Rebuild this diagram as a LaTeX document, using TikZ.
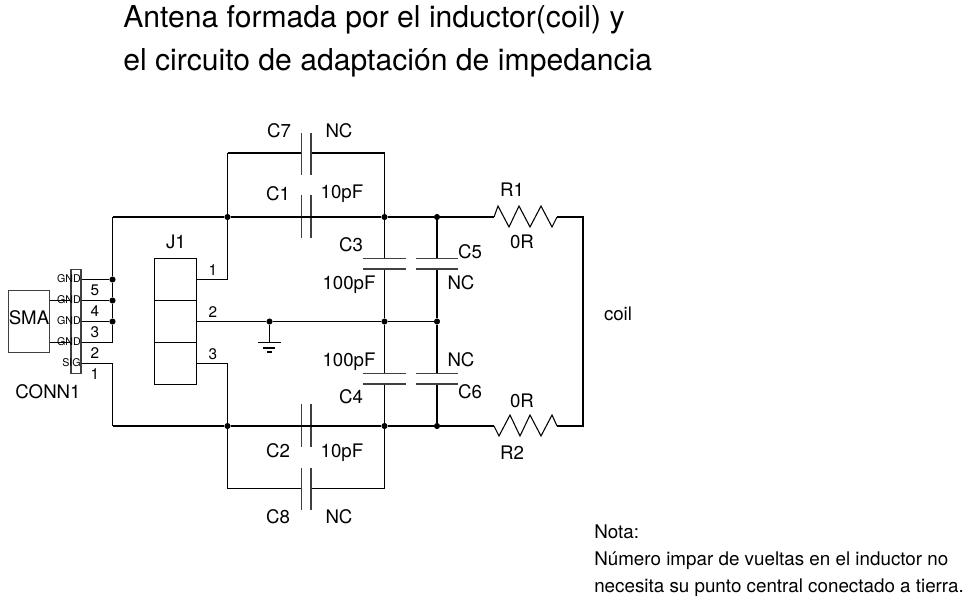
\documentclass[tikz,border=0pt]{standalone}
\usepackage{fontspec}
\setmainfont{TeX Gyre Heros}
\usetikzlibrary{positioning}

\begin{document}
\begin{tikzpicture}[
    x=0.75pt, y=-0.75pt,
    font=\fontsize{14}{16}\selectfont,
    wire/.style={line width=0.8pt, black, line join=miter},
    dot/.style={circle, fill=black, inner sep=0pt, minimum size=4.6pt},
    vplate/.style={rectangle, fill=black!75, inner sep=0pt, minimum width=1pt, minimum height=32pt},
    hplate/.style={rectangle, fill=black!75, inner sep=0pt, minimum width=32pt, minimum height=1pt},
    lab/.style={inner sep=0pt},
    pinlab/.style={inner sep=0pt, font=\fontsize{11.5}{13}\selectfont},
    gndlab/.style={inner sep=0pt, anchor=east, font=\fontsize{8}{9}\selectfont},
    titlelab/.style={inner sep=0pt, anchor=base west, font=\fontsize{22.6}{24}\selectfont},
    notelab/.style={inner sep=0pt, anchor=base west, font=\fontsize{14.1}{16}\selectfont},
]
\useasboundingbox (0,0) rectangle (970,600);

% ---- Title ----
\node[titlelab] (title1) at (123,27) {Antena formada por el inductor(coil) y};
\node[titlelab] (title2) at (123,70) {el circuito de adaptación de impedancia};

% ---- Junctions ----
\foreach \name/\x/\y in {jtl/227.5/217, jtm/384.5/217, jtr/437/217,
    jbl/227.5/426, jbm/384.5/426, jbr/437/426,
    jgnd/269.5/321.5, jmm/384.5/321.5, jmr/437/321.5,
    jc1/112.5/279.5, jc2/112.5/300.5, jc3/112.5/321.5} {
    \node[dot] (\name) at (\x,\y) {};
}

% ---- Corners ----
\coordinate (ctl) at (112.5,217);
\coordinate (cbl) at (112.5,426);
\coordinate (c7l) at (227.5,153);
\coordinate (c7r) at (384.5,153);
\coordinate (c8l) at (227.5,488.5);
\coordinate (c8r) at (384.5,488.5);
\coordinate (ctr) at (583,217);
\coordinate (cbr) at (583,426);

% ---- Series capacitors ----
\foreach \name/\y in {c7/154, c1/216.5, c2/425.5, c8/489} {
    \node[vplate] (\name a) at (301.5,\y) {};
    \node[vplate] (\name b) at (311,\y) {};
}
\draw[wire] (c7l) -- (c7a.west |- c7l);
\draw[wire] (c7b.east |- c7r) -- (c7r);
\draw[wire] (jtl) -- (c1a.west |- jtl);
\draw[wire] (c1b.east |- jtm) -- (jtm);
\draw[wire] (jbl) -- (c2a.west |- jbl);
\draw[wire] (c2b.east |- jbm) -- (jbm);
\draw[wire] (c8l) -- (c8a.west |- c8l);
\draw[wire] (c8b.east |- c8r) -- (c8r);
\draw[wire] (c7l) -- (jtl);
\draw[wire] (c7r) -- (jtm);
\draw[wire] (jbl) -- (c8l);
\draw[wire] (jbm) -- (c8r);

% ---- Shunt capacitors ----
\foreach \name/\x/\ya/\yb in {c3/384.5/258.5/269, c5/437/258.5/269, c4/384.5/373.5/384, c6/437/373.5/384} {
    \node[hplate] (\name a) at (\x,\ya) {};
    \node[hplate] (\name b) at (\x,\yb) {};
}
\draw[wire] (jtm) -- (c3a);
\draw[wire] (c3b) -- (jmm);
\draw[wire] (jtr) -- (c5a);
\draw[wire] (c5b) -- (jmr);
\draw[wire] (jmm) -- (c4a);
\draw[wire] (c4b) -- (jbm);
\draw[wire] (jmr) -- (c6a);
\draw[wire] (c6b) -- (jbr);

% ---- Resistors ----
\coordinate (r1a) at (494,217);
\coordinate (r1b) at (557,217);
\coordinate (r2a) at (494,426);
\coordinate (r2b) at (557,426);
\draw[wire] (r1a) -- (498,206) -- (509,227) -- (519,206) -- (530,227) -- (541,206) -- (552,227) -- (r1b);
\draw[wire] (r2a) -- (499,436) -- (510,415) -- (520,436) -- (530,415) -- (541,436) -- (552,415) -- (r2b);

% ---- Rails ----
\draw[wire] (ctl) -- (jtl);
\draw[wire] (jtl) -- (jtm);
\draw[wire] (jtm) -- (jtr);
\draw[wire] (jtr) -- (r1a);
\draw[wire] (r1b) -- (ctr) -- (cbr) -- (r2b);
\draw[wire] (cbl) -- (jbl);
\draw[wire] (jbl) -- (jbm);
\draw[wire] (jbm) -- (jbr);
\draw[wire] (jbr) -- (r2a);

% ---- Connector ----
\node[draw=black!75, line width=1.2pt, minimum width=31pt, minimum height=46.5pt, inner sep=0pt, lab] (sma) at (29,321.5) {};
\node[inner sep=0pt] (smatxt) at (29,318) {SMA};
\node[draw=black!75, line width=1.2pt, minimum width=7.5pt, minimum height=78pt, inner sep=0pt] (conn) at (76,321.5) {};
\coordinate (cg4) at (112.5,342.5);
\coordinate (csig) at (112.5,363.5);
\draw[wire] (conn.east |- jc1) -- (jc1);
\draw[wire] (conn.east |- jc2) -- (jc2);
\draw[wire] (conn.east |- jc3) -- (jc3);
\draw[wire] (conn.east |- cg4) -- (cg4);
\draw[wire] (conn.east |- csig) -- (csig);
\draw[wire] (ctl) -- (jc1);
\draw[wire] (jc1) -- (jc2);
\draw[wire] (jc2) -- (jc3);
\draw[wire] (jc3) -- (cg4);
\draw[wire] (csig) -- (cbl);
\draw[wire] (sma.east |- jc2) -- (conn.west |- jc2);
\draw[wire] (sma.east |- cg4) -- (conn.west |- cg4);
\foreach \i/\y/\lab in {1/279/GND, 2/300/GND, 3/321/GND, 4/342/GND, 5/363/SIG} {
    \node[gndlab] (pin\i) at (81,\y) {\lab};
}
\foreach \lab/\y in {5/290, 4/311, 3/332, 2/353, 1/374} {
    \node[pinlab] (num\lab) at (95,\y) {\lab};
}
\node[lab] (conn1) at (48,392) {CONN1};

% ---- J1 ----
\foreach \i/\y in {1/279.5, 2/321.5, 3/363.5} {
    \node[draw=black, line width=0.8pt, minimum width=31pt, minimum height=31.5pt, inner sep=0pt] (j\i) at (175.5,\y) {};
}
\coordinate (cj1) at (227.5,279.5);
\coordinate (cj3) at (227.5,363.5);
\draw[wire] (j1.east) -- (cj1) -- (jtl);
\draw[wire] (j2.east) -- (jgnd);
\draw[wire] (jgnd) -- (jmm);
\draw[wire] (jmm) -- (jmr);
\draw[wire] (j3.east) -- (cj3) -- (jbl);
\foreach \i/\y in {1/270, 2/312, 3/354} {
    \node[pinlab] (jn\i) at (213,\y) {\i};
}
\node[lab] (j1lab) at (176,242) {J1};

% ---- Ground ----
\coordinate (gnd) at (269.5,342.5);
\coordinate (gnda) at (258,342.5);
\coordinate (gndb) at (281,342.5);
\coordinate (gndc) at (263,348);
\coordinate (gndd) at (275,348);
\coordinate (gnde) at (267,352);
\coordinate (gndf) at (272,352);
\draw[wire] (jgnd) -- (gnd);
\draw[wire] (gnda) -- (gndb);
\draw[wire] (gndc) -- (gndd);
\draw[wire] (gnde) -- (gndf);

% ---- Labels ----
\foreach \name/\x/\y/\lab in {lc7/279/131/C7, vc7/339/131/NC, lc1/278/194/C1, vc1/342/194/10pF,
    lc3/351/245/C3, vc3/349/285/100pF, lc5/470/252/C5, vc5/461/283/NC,
    lr1/512/190/R1, vr1/522/242/0R, lcoil/618/314/coil,
    vc4/349/362/100pF, vc6/461/360/NC, lc4/351/397/C4, lc6/470/392/C6,
    vr2/522/401/0R, lr2/512/453/R2, lc2/278/451/C2, vc2/342/453/10pF,
    lc8/278/517/C8, vc8/339/517/NC} {
    \node[lab] (\name) at (\x,\y) {\lab};
}

% ---- Note ----
\node[notelab] (note1) at (594,538) {Nota:};
\node[notelab] (note2) at (594,565) {Número impar de vueltas en el inductor no};
\node[notelab] (note3) at (594,592) {necesita su punto central conectado a tierra.};

\end{tikzpicture}
\end{document}
